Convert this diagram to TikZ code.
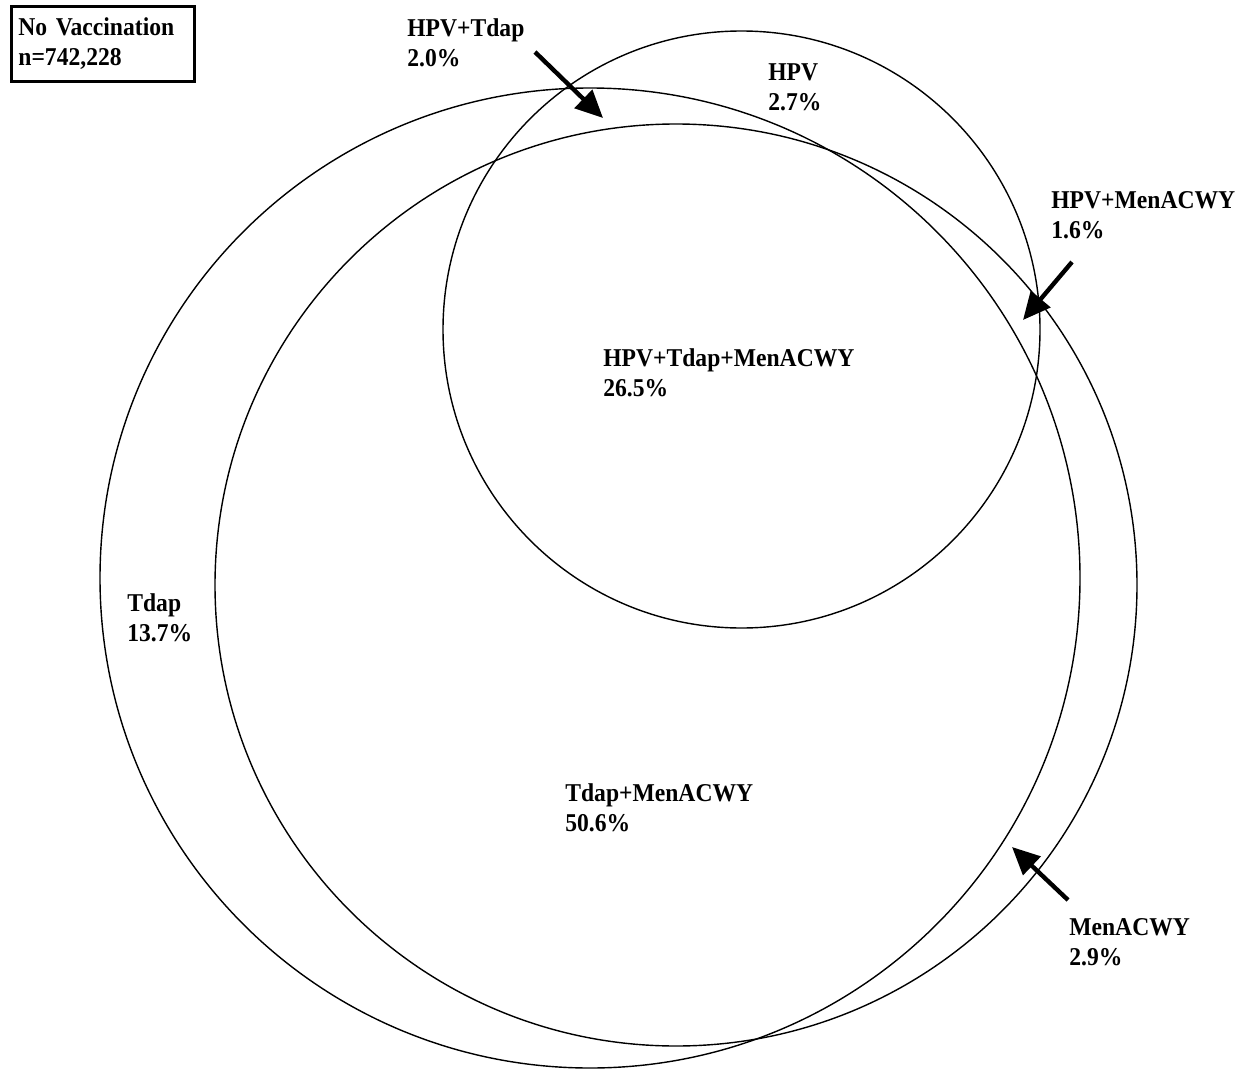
\documentclass[tikz,border=0pt]{standalone}
\usepackage{fontspec}
\setmainfont[FakeStretch=0.92]{Liberation Serif}
\usetikzlibrary{arrows.meta}
\begin{document}
\begin{tikzpicture}[x=0.02cm, y=-0.02cm,
    lbl/.style={anchor=north west, align=left, inner sep=0,
      font=\bfseries\fontsize{14.6}{17}\selectfont},
    ptr/.style={line width=2.5pt, -{Triangle[length=0.55cm, width=0.5cm]}}]
    \useasboundingbox (0,0) rectangle (1243,1071);
    \draw[line width=0.8pt] (590,578) circle (490);
    \draw[line width=0.8pt] (676,585) circle (461);
    \draw[line width=0.8pt] (741.5,329.5) circle (298.5);
    \node[lbl, draw, line width=1.6pt, anchor=north west, inner xsep=0.14cm,
      text width=3.38cm, minimum height=1.5cm] (novac) at (10,5)
      {No Vaccination\\n=742,228};
	\node[lbl] (hpvtdap) at (407,18) {HPV+Tdap\\2.0\%};
	\node[lbl] (hpv) at (768,63) {HPV\\2.7\%};
	\node[lbl] (hpvmen) at (1051,191) {HPV+MenACWY\\1.6\%};
	\node[lbl] (all) at (603,348) {HPV+Tdap+MenACWY\\26.5\%};
	\node[lbl] (tdap) at (127,593) {Tdap\\13.7\%};
	\node[lbl] (tdapmen) at (565,783) {Tdap+MenACWY\\50.6\%};
	\node[lbl] (men) at (1069,918) {MenACWY\\2.9\%};
  \coordinate (a1) at (535,52);
  \coordinate (b1) at (603,118);
  \coordinate (a2) at (1072,262);
  \coordinate (b2) at (1023,320);
  \coordinate (a3) at (1068,900);
  \coordinate (b3) at (1012,847);
  \draw[ptr] (a1) -- (b1);
  \draw[ptr] (a2) -- (b2);
  \draw[ptr] (a3) -- (b3);
\end{tikzpicture}
\end{document}
